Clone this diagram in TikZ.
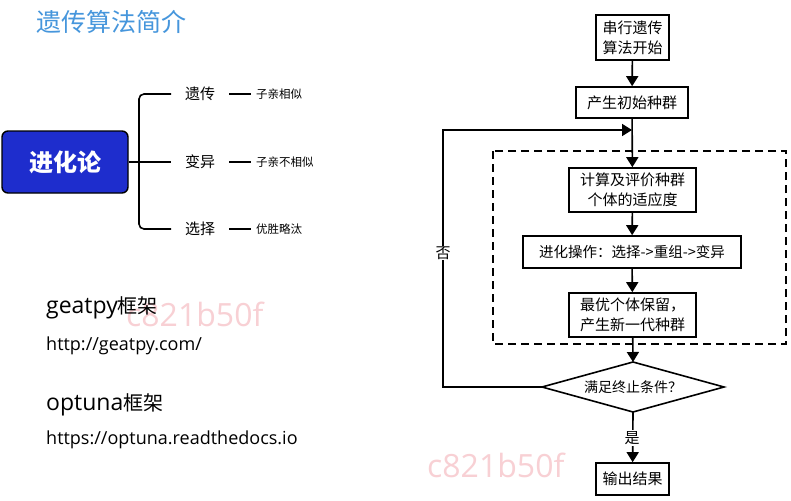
\documentclass[tikz,border=0pt]{standalone}
\usepackage{fontspec}
\setmainfont{Open Sans}
\newfontfamily\cjk{Noto Sans CJK SC}
\usetikzlibrary{arrows.meta}
\definecolor{titleblue}{RGB}{70,150,220}
\definecolor{boxblue}{RGB}{30,45,205}
\definecolor{wmpink}{RGB}{248,208,212}
\tikzset{
  fbox/.style={draw, line width=1.6pt, inner sep=0pt, align=center,
    font=\cjk\fontsize{15}{20}\selectfont},
  flow/.style={line width=1.6pt, -{Triangle[length=10pt,width=12pt]}},
  plain/.style={line width=1.6pt},
  branch/.style={font=\cjk\fontsize{15}{16}\selectfont, anchor=west, inner sep=0pt},
  leaf/.style={font=\cjk\fontsize{11.5}{13}\selectfont, anchor=west, inner sep=0pt},
  wm/.style={text=wmpink, font=\fontsize{32}{34}\selectfont, inner sep=0pt, anchor=west},
  head/.style={anchor=west, inner sep=0pt, font=\fontsize{23}{26}\selectfont},
  url/.style={anchor=west, inner sep=0pt, font=\fontsize{18}{20}\selectfont},
}
\begin{document}
\begin{tikzpicture}[x=1pt,y=-1pt]
\useasboundingbox (0,0) rectangle (791,500);
\fill[white] (0,0) rectangle (791,500);
% watermarks
\node[wm] (wm1) at (126,314) {c821b50f};
\node[wm] (wm2) at (427,465) {c821b50f};
% title
\node[anchor=west, inner sep=0pt, text=titleblue, font=\cjk\fontsize{25}{27}\selectfont] (title) at (36,22) {遗传算法简介};
% mind map
\node[draw=black, line width=1.4pt, fill=boxblue, rounded corners=6pt, minimum width=126pt, minimum height=62pt,
  text=white, font=\cjk\bfseries\fontsize{24}{26}\selectfont] (evo) at (65,162) {进化论};
\coordinate (bm) at (139,162);
\coordinate (bt) at (171,94);
\coordinate (bc) at (171,162);
\coordinate (bb) at (171,229);
\draw[plain] (evo.east) -- (bm);
\draw[plain, rounded corners=5pt] (bt) -- (139,94) -- (139,229) -- (bb);
\draw[plain] (bm) -- (bc);
\node[branch] (b1) at (185,94) {遗传};
\node[branch] (b2) at (185,162) {变异};
\node[branch] (b3) at (185,229) {选择};
\node[leaf] (l1) at (256,94) {子亲相似};
\node[leaf] (l2) at (256,162) {子亲不相似};
\node[leaf] (l3) at (256,229) {优胜略汰};
\draw[plain] ([xshift=14pt]b1.east) -- ([xshift=-5pt]l1.west);
\draw[plain] ([xshift=14pt]b2.east) -- ([xshift=-5pt]l2.west);
\draw[plain] ([xshift=14pt]b3.east) -- ([xshift=-5pt]l3.west);
% frameworks
\node[head] (g1) at (46,308) {geatpy{\cjk\fontsize{20}{22}\selectfont 框架}};
\node[url] (g2) at (46,346) {http://geatpy.com/};
\node[head] (o1) at (46,405) {optuna{\cjk\fontsize{20}{22}\selectfont 框架}};
\node[url] (o2) at (46,440) {https://optuna.readthedocs.io};
% flowchart
\draw[line width=1.2pt, dash pattern=on 8pt off 5pt] (493,151) rectangle (786,344);
\node[fbox, minimum width=73pt, minimum height=45pt] (s1) at (632.5,37.5) {串行遗传\\算法开始};
\node[fbox, minimum width=112pt, minimum height=31pt] (s2) at (632,102.5) {产生初始种群};
\node[fbox, minimum width=127pt, minimum height=44pt] (s3) at (632.5,190) {计算及评价种群\\个体的适应度};
\node[fbox, minimum width=218pt, minimum height=32pt, font=\cjk\fontsize{14.5}{18}\selectfont] (s4) at (632,252) {进化操作：选择->重组->变异};
\node[fbox, minimum width=127pt, minimum height=44pt, align=left] (s5) at (632.5,315) {最优个体保留，\\产生新一代种群};
\node[inner sep=0pt, font=\cjk\fontsize{14}{16}\selectfont] (d) at (633,387) {满足终止条件？};
\coordinate (dn) at (633,362);
\coordinate (de) at (724,387);
\coordinate (ds) at (633,412);
\coordinate (dw) at (542,387);
\draw[plain, line join=miter] (dn) -- (de) -- (ds) -- (dw) -- cycle;
\node[fbox, minimum width=73pt, minimum height=32pt] (s6) at (632.5,479) {输出结果};
\coordinate (j) at (632,130);
\coordinate (lp) at (443,387);
\draw[flow] (s1) -- (s2);
\draw[flow] (s2) -- (s3);
\draw[flow] (s3) -- (s4);
\draw[flow] (s4) -- (s5);
\draw[flow] (s5) -- (dn);
\draw[flow] (dw) -- (lp) |- (j);
\draw[flow] (ds) -- (s6);
\node[fill=white, inner sep=1pt, font=\cjk\fontsize{15}{16}\selectfont] (no) at (443,253) {否};
\node[fill=white, inner sep=1pt, font=\cjk\fontsize{15}{16}\selectfont] (yes) at (632,438) {是};
\end{tikzpicture}
\end{document}
